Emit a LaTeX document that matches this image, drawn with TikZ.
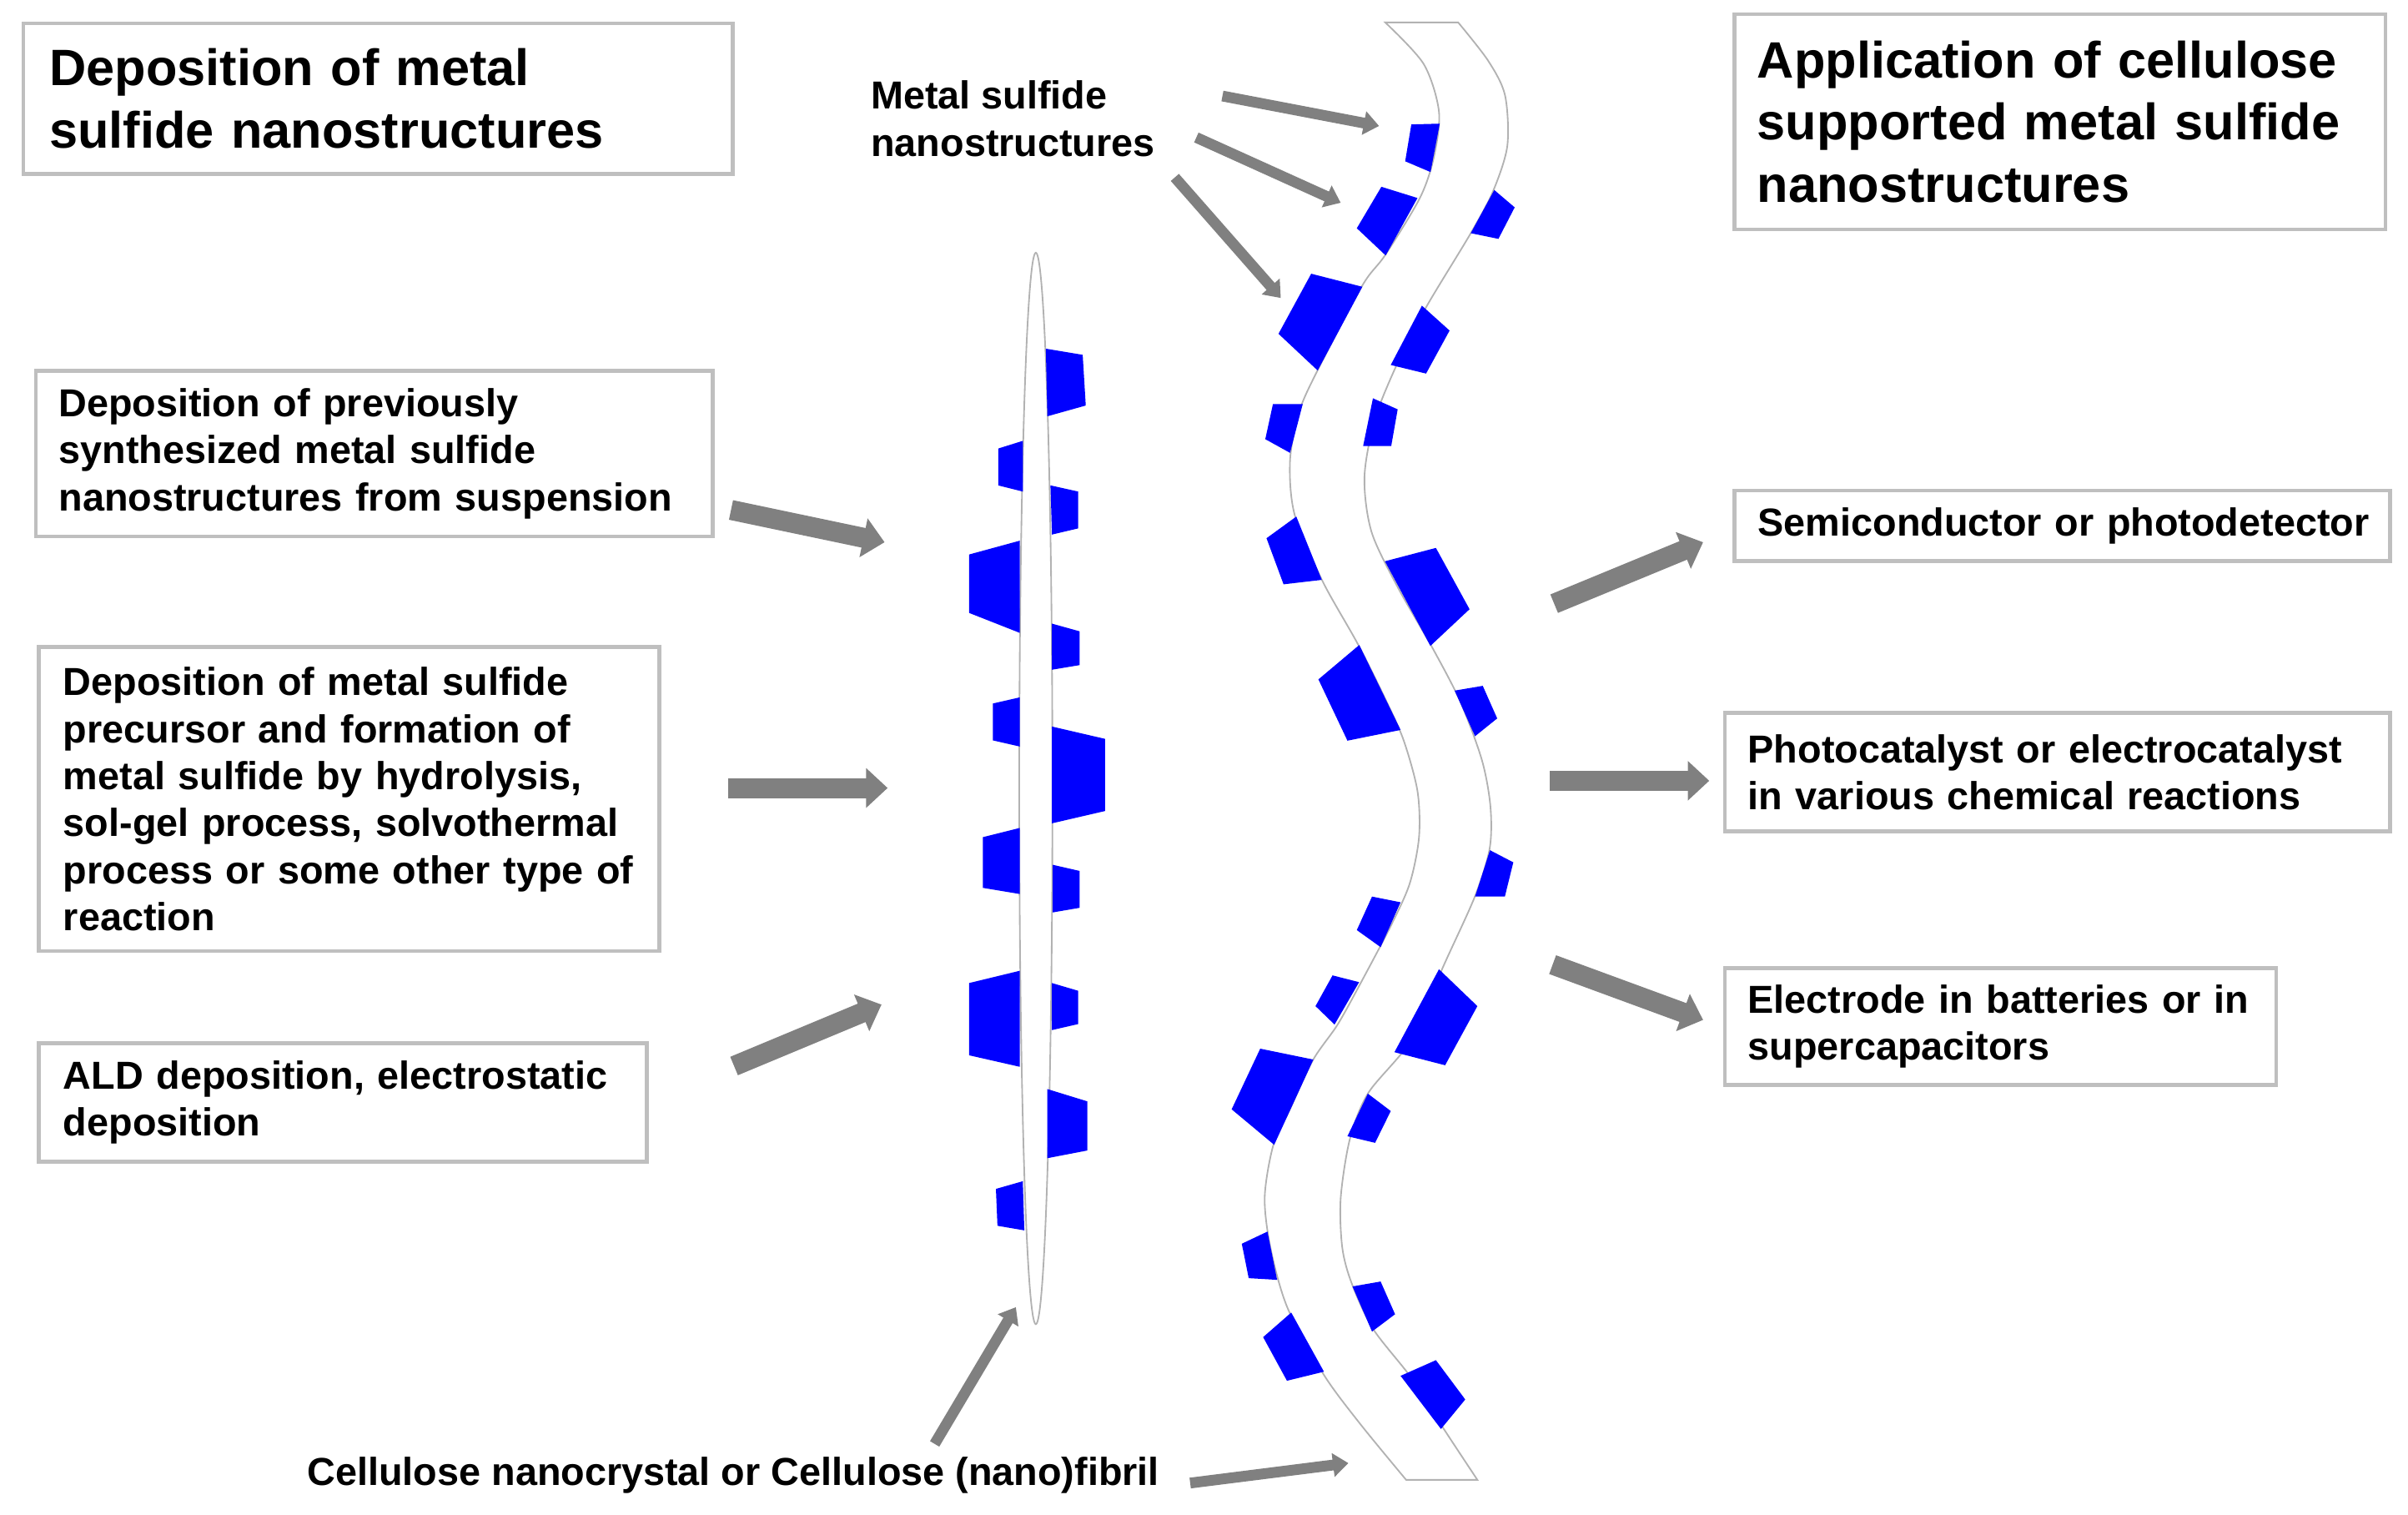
\documentclass[tikz,border=0pt]{standalone}
\usepackage{fontspec}
\setmainfont{Liberation Sans}
\usetikzlibrary{arrows.meta}
\definecolor{boxgray}{RGB}{191,191,191}
\definecolor{arrgray}{RGB}{128,128,128}
\definecolor{msblue}{RGB}{0,0,255}
\definecolor{fibgray}{RGB}{178,178,178}
\newcommand\bodyf{\fontsize{25.4}{30.6}\selectfont\bfseries\hyphenpenalty=10000\exhyphenpenalty=10000}
\newcommand\titlef{\fontsize{33.3}{40.6}\selectfont\bfseries\hyphenpenalty=10000\exhyphenpenalty=10000}
\tikzset{
  box/.style={draw=boxgray, line width=2.5pt, fill=white, align=left, anchor=north west, inner ysep=0pt, inner xsep=15pt, font=\bodyf},
  label/.style={align=left, inner sep=0pt, font=\bodyf},
  bigarrow/.style={draw=arrgray, line width=13pt, -{Triangle[width=25pt,length=14pt]}},
  smallarrow/.style={draw=arrgray, line width=7pt, -{Triangle[width=15pt,length=10pt]}},
  fib/.style={draw=fibgray, line width=1pt, fill=white},
  ms/.style={fill=msblue}
}
\begin{document}
\begin{tikzpicture}[x=1pt,y=-1pt]
\useasboundingbox (0,0) rectangle (1568,986.3);

% ---------- text boxes ----------
\node[box, font=\titlef, minimum width=462pt, minimum height=98pt, inner xsep=17pt, text width=428pt] (t1) at (14,14)
  {Deposition of metal\\sulfide nanostructures};
\node[box, font=\titlef, minimum width=424pt, minimum height=140pt, text width=394pt] (t2) at (1128,8)
  {Application of cellulose\\supported metal sulfide\\nanostructures};
\node[box, minimum width=441pt, minimum height=108pt, text width=411pt] (l1) at (22,240)
  {Deposition of previously\\synthesized metal sulfide\\nanostructures from suspension};
\node[box, minimum width=404pt, minimum height=198pt, inner xsep=16pt, text width=372pt] (l2) at (24,420)
  {Deposition of metal sulfide\\precursor and formation of\\metal sulfide by hydrolysis,\\sol-gel process, solvothermal\\process or some other type of\\reaction};
\node[box, minimum width=396pt, minimum height=77pt, inner xsep=16pt, text width=364pt] (l3) at (24,678)
  {ALD deposition, electrostatic\\deposition};
\node[box, minimum width=427pt, minimum height=46pt, inner xsep=15.5pt, text width=396pt] (r1) at (1128,318)
  {\mbox{Semiconductor or photodetector}};
\node[box, minimum width=433pt, minimum height=77pt, text width=403pt] (r2) at (1122,463)
  {Photocatalyst or electrocatalyst\\in various chemical reactions};
\node[box, minimum width=359pt, minimum height=76pt, text width=329pt] (r3) at (1122,629)
  {Electrode in batteries or in\\supercapacitors};

\node[label, anchor=north west] (msl) at (567,52.5) {Metal sulfide\\nanostructures};
\node[label, anchor=base west] (cel) at (200,967) {Cellulose nanocrystal or Cellulose (nano)fibril};

% ---------- straight fibril ----------
\draw[fib] (674.5,513.3) ellipse [x radius=10.8, y radius=348.8];
\coordinate (sf) at (674.5,513.3);

\fill[ms] (681,227)--(705,231)--(707,264)--(682,271)--cycle;
\fill[ms] (650,292)--(666,287)--(666,320)--(650,316)--cycle;
\fill[ms] (684,316)--(702,320)--(702,344)--(685,348)--cycle;
\fill[ms] (631,361)--(664,352)--(664,412)--(631,399)--cycle;
\fill[ms] (685,406)--(703,411)--(703,433)--(685,436)--cycle;
\fill[ms] (646.5,458)--(664,454)--(664,486)--(646.5,482)--cycle;
\fill[ms] (685,473)--(719.5,481)--(719.5,528)--(685,536)--cycle;
\fill[ms] (640,545)--(664,539)--(664,582)--(640,578)--cycle;
\fill[ms] (685.5,563)--(703,567)--(703,591)--(685.5,594)--cycle;
\fill[ms] (631,640)--(664,632)--(664,694.5)--(631,687)--cycle;
\fill[ms] (685,640)--(702,645)--(702,666.7)--(685,670.6)--cycle;
\fill[ms] (682,709)--(708,717)--(708,749)--(682,754)--cycle;
\fill[ms] (648.5,774)--(666,769)--(667,801)--(649.5,798)--cycle;

% ---------- wavy fibril ----------
\draw[fib] plot[smooth] coordinates {(902,14.6) (927,41.6) (937,72.8) (933.5,103) (924.5,129) (902,166) (887,186) (858,241) (846,268) (840,300) (843,335) (861,378) (884,419) (902,455) (914,482) (923,515) (924,545) (918,575) (906,602) (886,640) (871,667) (855,690) (840,722) (829,746) (823.5,780) (827.6,814) (838.6,852) (862,895) (885.7,927) (915.6,963.4)}
  -- plot[smooth] coordinates {(962,963.4) (938,927) (919,897) (894,865) (880,835) (874,812) (873,780) (879,741.5) (891,711.5) (919,677) (939.7,629.4) (960.4,583.6) (970,552.4) (970.5,525) (965,495) (951,457) (932.6,421.5) (910,382) (893,346) (888.5,310) (896,270.6) (913.4,229) (930,197.6) (957.6,152) (972,125) (981.5,95) (980,62) (969,39.5) (949.5,14.6)}
  -- cycle;
\coordinate (wf) at (902,500);

\fill[ms] (919,81)--(937.5,80.5)--(931.5,112)--(915,105)--cycle;
\fill[ms] (899.5,121.6)--(923,128.9)--(902.3,166.3)--(883.5,148.6)--cycle;
\fill[ms] (973,123.7)--(986.3,135)--(975.7,155.5)--(957.7,151.8)--cycle;
\fill[ms] (853.8,178.2)--(887.1,186.7)--(858,241.2)--(832.5,217.3)--cycle;
\fill[ms] (925.9,199)--(943.9,215.2)--(928.6,243.2)--(905.6,237.6)--cycle;
\fill[ms] (828.9,263)--(848.3,263)--(840,294.8)--(823.9,285.9)--cycle;
\fill[ms] (894,259.3)--(910.1,266.5)--(905.9,290.4)--(887.6,290.4)--cycle;
\fill[ms] (824.7,350.4)--(844.1,336.3)--(860.7,377.5)--(835.8,380.4)--cycle;
\fill[ms] (901.8,365.4)--(935,356.7)--(956.9,396.6)--(931.4,420.5)--cycle;
\fill[ms] (858.5,442.3)--(885.1,419.9)--(912,475.2)--(877.4,482.2)--cycle;
\fill[ms] (947.2,449.6)--(965.5,446.5)--(974.9,467.7)--(960.5,479.3)--cycle;
\fill[ms] (970.2,553.5)--(985.4,561.4)--(979.9,583.7)--(960.5,583.7)--cycle;
\fill[ms] (893.4,583.7)--(912,587.4)--(899,616.6)--(883.5,605.5)--cycle;
\fill[ms] (867.7,635)--(885,639.4)--(869,667)--(856.6,655)--cycle;
\fill[ms] (937,631)--(962,655)--(941,693.5)--(908,685)--cycle;
\fill[ms] (820.6,682.7)--(855.2,689.8)--(829.7,745.3)--(802,722.2)--cycle;
\fill[ms] (890.7,712)--(905.6,723.3)--(895.4,744)--(877.4,739.7)--cycle;
\fill[ms] (808.6,809.7)--(825.3,801.8)--(831.6,833.2)--(813.1,832.1)--cycle;
\fill[ms] (880.7,837.5)--(899,834.3)--(908.4,855.6)--(893.4,866.9)--cycle;
\fill[ms] (822.5,870.5)--(840.8,854.5)--(862.1,893)--(838,898.9)--cycle;
\fill[ms] (912,895.7)--(935,885.5)--(954.1,911.1)--(938.3,930.3)--cycle;

% ---------- arrow end points ----------
\coordinate (a1s) at (476,332);   \coordinate (a1e) at (576,353);
\coordinate (a2s) at (474,513);   \coordinate (a2e) at (578,513);
\coordinate (a3s) at (478,694);   \coordinate (a3e) at (574,654);
\coordinate (a4s) at (1012,393);  \coordinate (a4e) at (1109,353);
\coordinate (a5s) at (1009,508.3);\coordinate (a5e) at (1113,508.3);
\coordinate (a6s) at (1011,628);  \coordinate (a6e) at (1109,664);
\coordinate (b1s) at (796,62.5);  \coordinate (b1e) at (898,82);
\coordinate (b2s) at (779,89.5);  \coordinate (b2e) at (873,132);
\coordinate (b3s) at (765,115.5); \coordinate (b3e) at (834,194);
\coordinate (c1s) at (608.6,940); \coordinate (c1e) at (661.5,851);
\coordinate (c2s) at (775,965.5); \coordinate (c2e) at (878,952.5);

\draw[bigarrow] (a1s) -- (a1e);
\draw[bigarrow] (a2s) -- (a2e);
\draw[bigarrow] (a3s) -- (a3e);
\draw[bigarrow] (a4s) -- (a4e);
\draw[bigarrow] (a5s) -- (a5e);
\draw[bigarrow] (a6s) -- (a6e);
\draw[smallarrow] (b1s) -- (b1e);
\draw[smallarrow] (b2s) -- (b2e);
\draw[smallarrow] (b3s) -- (b3e);
\draw[smallarrow] (c1s) -- (c1e);
\draw[smallarrow] (c2s) -- (c2e);
\end{tikzpicture}
\end{document}
